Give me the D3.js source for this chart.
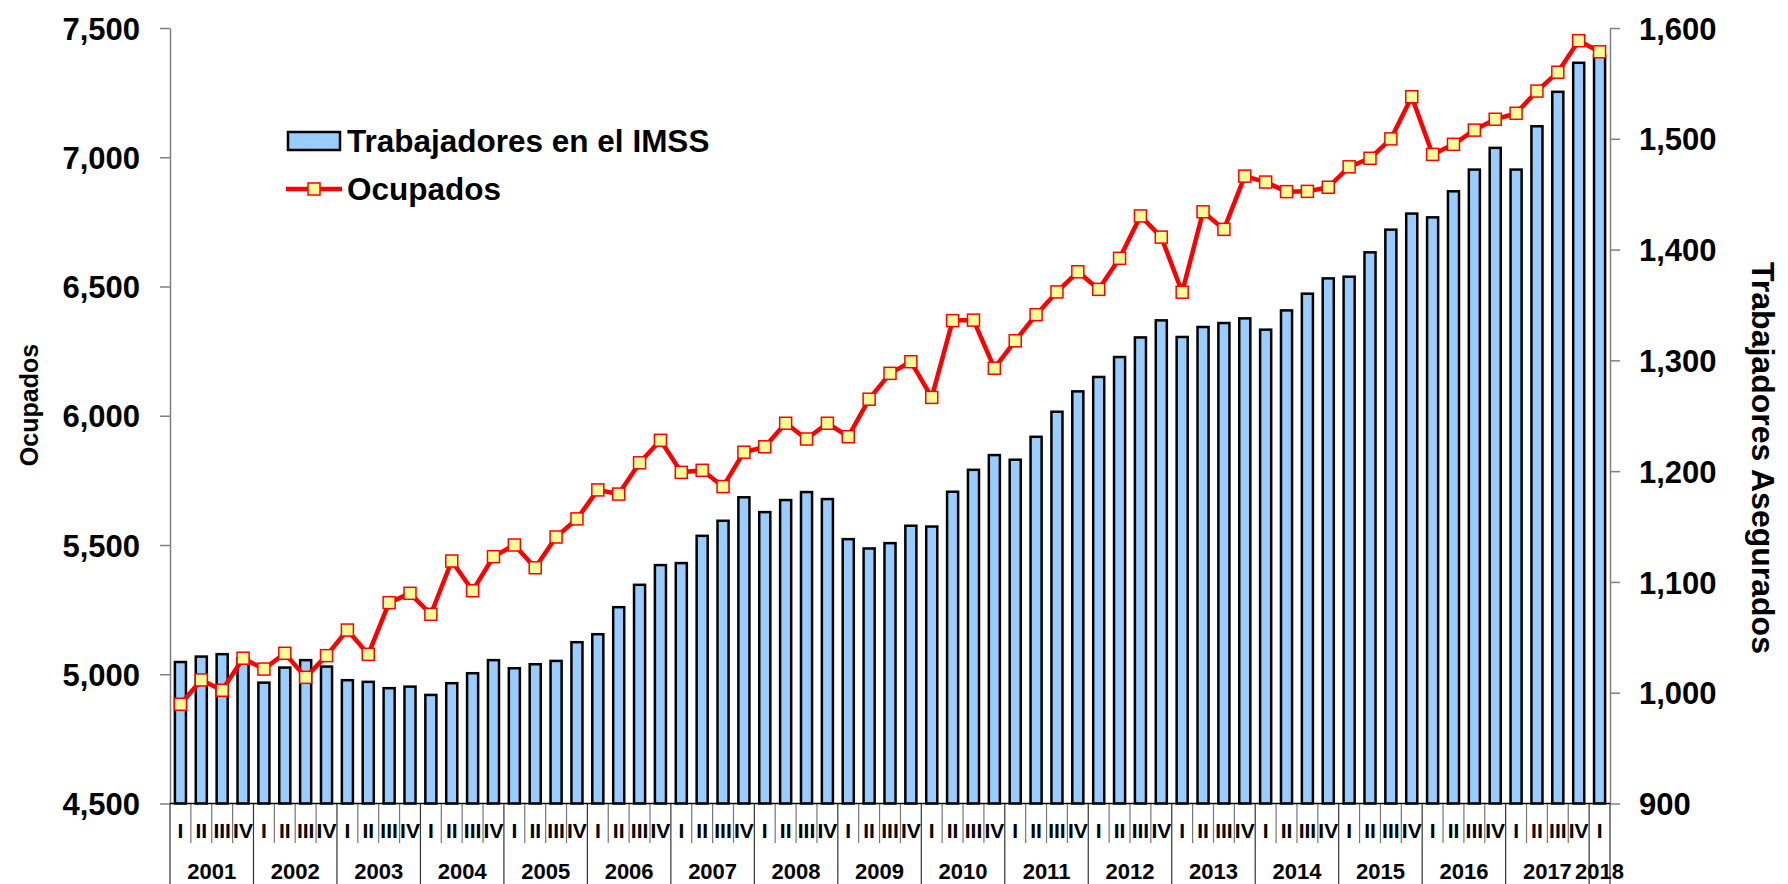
<!DOCTYPE html>
<html>
<head>
<meta charset="utf-8">
<script src="https://cdn.jsdelivr.net/npm/d3@7"></script>
<style>
  body { margin: 0; background: #fff; }
  svg { display: block; font-family: "Liberation Sans", Arial, sans-serif; font-weight: bold; }
</style>
</head>
<body>
<svg id="chart"></svg>
<script>
//Categories
const years = [2001, 2002, 2003, 2004, 2005, 2006, 2007, 2008, 2009, 2010, 2011, 2012, 2013, 2014, 2015, 2016, 2017, 2018];
const quarterNames = ["I", "II", "III", "IV"];

//Series (thousands)
const imss = [1027.7, 1032.6, 1034.8, 1031, 1009.1, 1022.7, 1029.4, 1023.6, 1011.3, 1009.8, 1004.1, 1005.5,
  998, 1008.6, 1017.6, 1029.4, 1022.1, 1025.7, 1028.7, 1045.6, 1052.8, 1077.2, 1097.4, 1115.2,
  1117, 1141.6, 1155.2, 1176.4, 1163, 1173.9, 1181.1, 1174.8, 1138.6, 1130.2, 1135, 1150.7,
  1150, 1181.4, 1201.2, 1214.5, 1210.3, 1231, 1253.6, 1272, 1285, 1303, 1320.7, 1336.1,
  1321.1, 1330.1, 1333.7, 1337.9, 1327.7, 1345.1, 1360.2, 1374, 1375.5, 1397.5, 1418, 1432.5,
  1429.1, 1452.6, 1472.2, 1491.8, 1472.2, 1511.3, 1542.4, 1568.6, 1575];
const ocupados = [4884, 4978, 4938, 5062, 5020, 5081, 4988, 5072, 5171, 5077, 5277, 5313,
  5232, 5438, 5323, 5455, 5500, 5412, 5531, 5601, 5713, 5697, 5818, 5905,
  5781, 5789, 5726, 5859, 5880, 5971, 5910, 5971, 5919, 6064, 6164, 6209,
  6071, 6368, 6370, 6184, 6290, 6391, 6479, 6557, 6489, 6609, 6773, 6691,
  6478, 6789, 6721, 6927, 6904, 6867, 6868, 6884, 6963, 6996, 7071, 7234,
  7011, 7050, 7105, 7147, 7170, 7256, 7329, 7451, 7408];

//Tick labels
const leftTicks = [4500, 5000, 5500, 6000, 6500, 7000, 7500];
const rightTicks = [900, 1000, 1100, 1200, 1300, 1400, 1500, 1600];

//Periods: 4 quarters per year, 2018 only first quarter
const periods = [];
years.forEach(y => {
  const n = y === 2018 ? 1 : 4;
  for (let q = 0; q < n; q++) periods.push({ year: y, q: quarterNames[q] });
});

const w = 1788;
const h = 884;
const plotLeft = 170, plotRight = 1610, plotTop = 28, plotBottom = 803.5;

const chart = d3.select("#chart").attr("width", w).attr("height", h);

const x = d3.scaleBand().domain(d3.range(periods.length)).range([plotLeft, plotRight]).padding(0);
const yL = d3.scaleLinear().domain([4500, 7500]).range([plotBottom, plotTop]);
const yR = d3.scaleLinear().domain([900, 1600]).range([plotBottom, plotTop]);
const bw = x.bandwidth() * 0.53;
const cx = i => x(i) + x.bandwidth() / 2;

//Bars
chart.append("g")
  .selectAll("rect")
  .data(imss)
  .enter()
  .append("rect")
  .attr("x", (d, i) => cx(i) - bw / 2)
  .attr("y", d => yR(d))
  .attr("width", bw)
  .attr("height", d => plotBottom - yR(d))
  .attr("fill", "#99CCFF")
  .attr("stroke", "#000")
  .attr("stroke-width", 2.5);

//Axes
const leftAxis = chart.append("g")
  .attr("transform", `translate(${plotLeft},0)`)
  .call(d3.axisLeft(yL).tickValues(leftTicks).tickFormat(d3.format(",")).tickSize(10).tickSizeOuter(0).tickPadding(20));

const rightAxis = chart.append("g")
  .attr("transform", `translate(${plotRight},0)`)
  .call(d3.axisRight(yR).tickValues(rightTicks).tickFormat(d3.format(",")).tickSize(10).tickSizeOuter(0).tickPadding(19));

[leftAxis, rightAxis].forEach(a => {
  a.select(".domain").attr("stroke", "#808080").attr("stroke-width", 1.5);
  a.selectAll(".tick line").attr("stroke", "#808080").attr("stroke-width", 1.5);
  a.selectAll(".tick text")
    .attr("fill", "#000")
    .attr("font-size", 31)
    .attr("font-family", "'Liberation Sans', Arial, sans-serif")
    .attr("font-weight", "bold")
    .attr("dy", "0.36em");
});

//Category axis
const cat = chart.append("g");
cat.selectAll(".qline")
  .data(d3.range(periods.length + 1))
  .enter()
  .append("line")
  .attr("x1", i => plotLeft + i * x.step())
  .attr("x2", i => plotLeft + i * x.step())
  .attr("y1", plotBottom)
  .attr("y2", (i) => (i % 4 === 0 || i === periods.length) ? h : 843)
  .attr("stroke", (i) => (i % 4 === 0 || i === periods.length) ? "#333" : "#777")
  .attr("stroke-width", 1.2);

cat.append("line")
  .attr("x1", plotLeft).attr("x2", plotRight)
  .attr("y1", plotBottom).attr("y2", plotBottom)
  .attr("stroke", "#000").attr("stroke-width", 1.5);

cat.selectAll(".qlabel")
  .data(periods)
  .enter()
  .append("text")
  .attr("x", (d, i) => cx(i))
  .attr("y", 830)
  .attr("dy", "0.36em")
  .attr("text-anchor", "middle")
  .attr("font-size", 21)
  .text(d => d.q);

cat.selectAll(".ylabel")
  .data(years)
  .enter()
  .append("text")
  .attr("x", y => {
    const idx = d3.range(periods.length).filter(i => periods[i].year === y);
    return (cx(idx[0]) + cx(idx[idx.length - 1])) / 2;
  })
  .attr("y", 871)
  .attr("dy", "0.36em")
  .attr("text-anchor", "middle")
  .attr("font-size", 22)
  .text(y => y);

//Line
const line = d3.line()
  .x((d, i) => cx(i))
  .y(d => yL(d));

chart.append("path")
  .datum(ocupados)
  .attr("d", line)
  .attr("fill", "none")
  .attr("stroke", "#FF0000")
  .attr("stroke-width", 4.5)
  .attr("stroke-linejoin", "round");

const ms = 12;
chart.append("g")
  .selectAll("rect")
  .data(ocupados)
  .enter()
  .append("rect")
  .attr("x", (d, i) => cx(i) - ms / 2)
  .attr("y", d => yL(d) - ms / 2)
  .attr("width", ms)
  .attr("height", ms)
  .attr("fill", "#FFFF99")
  .attr("stroke", "#FF0000")
  .attr("stroke-width", 1.5);

//Axis titles
chart.append("text")
  .attr("transform", "translate(29,405) rotate(-90)")
  .attr("text-anchor", "middle")
  .attr("dy", "0.36em")
  .attr("font-size", 25)
  .text("Ocupados");

chart.append("text")
  .attr("transform", "translate(1764,458) rotate(90)")
  .attr("text-anchor", "middle")
  .attr("dy", "0.36em")
  .attr("font-size", 32)
  .text("Trabajadores Asegurados");

//Legend
const legend = chart.append("g");
legend.append("rect")
  .attr("x", 288).attr("y", 132)
  .attr("width", 52).attr("height", 18)
  .attr("fill", "#99CCFF").attr("stroke", "#000").attr("stroke-width", 2.5);
legend.append("text")
  .attr("x", 347).attr("y", 141).attr("dy", "0.36em")
  .attr("font-size", 31.5)
  .text("Trabajadores en el IMSS");

legend.append("line")
  .attr("x1", 286).attr("x2", 342)
  .attr("y1", 189).attr("y2", 189)
  .attr("stroke", "#FF0000").attr("stroke-width", 4.5);
legend.append("rect")
  .attr("x", 314 - ms / 2).attr("y", 189 - ms / 2)
  .attr("width", ms).attr("height", ms)
  .attr("fill", "#FFFF99").attr("stroke", "#FF0000").attr("stroke-width", 1.5);
legend.append("text")
  .attr("x", 347).attr("y", 189).attr("dy", "0.36em")
  .attr("font-size", 31.5)
  .text("Ocupados");
</script>
</body>
</html>
